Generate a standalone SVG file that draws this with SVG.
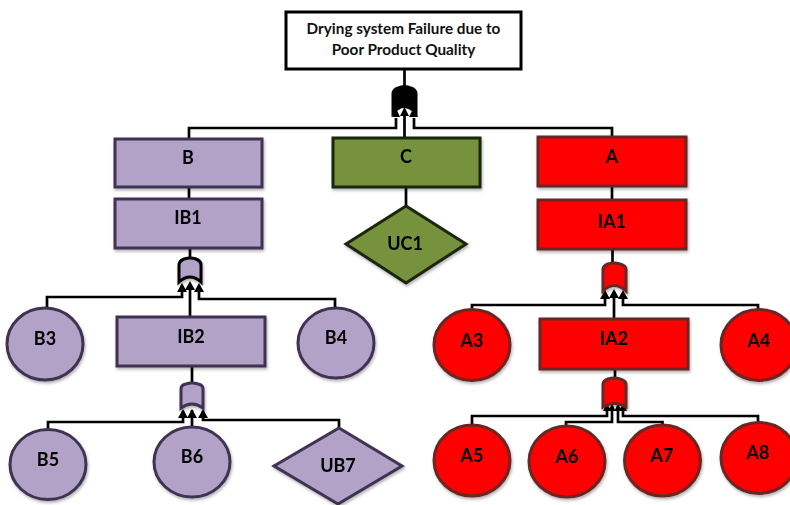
<svg xmlns="http://www.w3.org/2000/svg" width="790" height="505" viewBox="0 0 790 505">
<style>
text{font-family:Lato,"Liberation Sans",sans-serif;font-weight:700;font-size:18px;fill:#000;text-anchor:middle}
text.t{font-size:15.3px;fill:#111}
.p{fill:#b2a2c7;stroke:#403152;stroke-width:3}
.r{fill:#f00;stroke:#6b2624;stroke-width:3}
.g{fill:#76923c;stroke:#1c2510;stroke-width:3}
.c{fill:none;stroke:#000;stroke-width:2.700}
</style>
<defs>
<filter id="s" x="-10%" y="-10%" width="125%" height="125%"><feDropShadow dx="1" dy="2" stdDeviation="1.500" flood-color="#000" flood-opacity=".3"/></filter>
</defs>
<g id="connectors">
<path class="c" d="M404.500 69V86"/>
<path class="c" d="M189 139V128H396V118"/>
<path class="c" d="M404.500 137V116"/>
<path class="c" d="M612 137V128H414V118"/>
<path class="c" d="M189 187V199"/>
<path class="c" d="M406 187V206"/>
<path class="c" d="M612 186V200"/>
<path class="c" d="M190 248V258"/>
<path class="c" d="M47 310V297H182V287"/>
<path class="c" d="M190 317V285"/>
<path class="c" d="M335 308V299H199V287"/>
<path class="c" d="M192 366V383"/>
<path class="c" d="M48 430V422H183V411"/>
<path class="c" d="M192 428V410"/>
<path class="c" d="M339 428V420H203V411"/>
<path class="c" d="M612.500 249V263"/>
<path class="c" d="M472 309V305H605V294"/>
<path class="c" d="M614 319V292"/>
<path class="c" d="M758 309V305H623V294"/>
<path class="c" d="M615 369V377"/>
<path class="c" d="M472 425V416H607V408"/>
<path class="c" d="M566 426V422H612V408"/>
<path class="c" d="M662.500 425V422H618V408"/>
<path class="c" d="M758 423V416H623V408"/>
</g>
<g id="arrows" fill="#000">
<path d="M392 117l4-9 4 9zM400 116l4.500-9 4.500 9zM409 117l4.500-9 4.500 9zM177 292l5-9 5 9zM185 290l5-9 5 9zM194 292l5-9 5 9zM178 418l5-9 5 9zM187 418l5-9 5 9zM198 418l5-9 5 9zM600 299l5-9 5 9zM609 298l5-9 5 9zM618 299l5-9 5 9zM603 411l4-8 4 8zM608.500 411l3.500-8 3.500 8zM614.500 411l3.500-8 3.500 8zM619 411l4-8 4 8z"/>
</g>
<g id="top"><rect x="286" y="12" width="235" height="57" fill="#fff" stroke="#000" stroke-width="3"/><text class="t" x="403.500" y="34">Drying system Failure due to</text><text class="t" x="403.500" y="55">Poor Product Quality</text></g>
<g id="gate-top"><path d="M393 113V94Q393 90 398 88Q404.500 85 411 88Q416 90 416 94V113Q404 100 393 113Z" fill="#000" stroke="#000" stroke-width="3"/></g>
<g id="B" filter="url(#s)"><rect class="p" x="115" y="139" width="147" height="48"/><text x="188" y="164">B</text></g>
<g id="C" filter="url(#s)"><rect class="g" x="333" y="138" width="147" height="49"/><text x="406" y="163">C</text></g>
<g id="A" filter="url(#s)"><rect class="r" x="538" y="137" width="148" height="49"/><text x="612" y="163">A</text></g>
<g id="IB1" filter="url(#s)"><rect class="p" x="115" y="199" width="147" height="49"/><text x="188" y="224">IB1</text></g>
<g id="IA1" filter="url(#s)"><rect class="r" x="538" y="200" width="148" height="49"/><text x="612" y="228">IA1</text></g>
<g id="UC1" filter="url(#s)"><path class="g" d="M406 206L466 244L406 283L346 244Z"/><text x="405" y="250">UC1</text></g>
<g id="gate-IB1" filter="url(#s)"><path d="M179 282V265Q179 261 184 259Q190 257 196 259Q201 261 201 265V282Q190 272 179 282Z" fill="#b2a2c7" stroke="#000" stroke-width="3"/></g>
<g id="B3" filter="url(#s)"><ellipse class="p" cx="45" cy="344" rx="38" ry="36"/><text x="45" y="345">B3</text></g>
<g id="IB2" filter="url(#s)"><rect class="p" x="117" y="317" width="148" height="49"/><text x="191" y="343">IB2</text></g>
<g id="B4" filter="url(#s)"><ellipse class="p" cx="336" cy="343" rx="38" ry="35"/><text x="336" y="344">B4</text></g>
<g id="gate-IB2" filter="url(#s)"><path d="M181 408V389Q181 385 186 384Q192 382 198 384Q203 385 203 389V408Q192 400 181 408Z" fill="#b2a2c7" stroke="#403152" stroke-width="3"/></g>
<g id="B5" filter="url(#s)"><ellipse class="p" cx="48" cy="464.500" rx="38" ry="35"/><text x="48" y="466">B5</text></g>
<g id="B6" filter="url(#s)"><ellipse class="p" cx="192" cy="462" rx="38" ry="35"/><text x="192" y="463">B6</text></g>
<g id="UB7" filter="url(#s)"><path class="p" d="M339 428L402 466L338 504L274 466Z"/><text x="338" y="472">UB7</text></g>
<g id="gate-IA1" filter="url(#s)"><path class="r" d="M603 291V269Q603 266 608 264Q614 262 620 264Q626 266 626 269V291Q614 280 603 291Z"/></g>
<g id="A3" filter="url(#s)"><ellipse class="r" cx="472" cy="345" rx="38" ry="35.500"/><text x="472" y="347">A3</text></g>
<g id="IA2" filter="url(#s)"><rect class="r" x="540" y="319" width="148" height="50"/><text x="614" y="345">IA2</text></g>
<g id="A4" filter="url(#s)"><ellipse class="r" cx="759" cy="345" rx="38" ry="35.500"/><text x="759" y="347">A4</text></g>
<g id="gate-IA2" filter="url(#s)"><path class="r" d="M603 407V384Q603 381 608 379Q614 377 620 379Q626 381 626 384V407Q614 400 603 407Z"/></g>
<g id="A5" filter="url(#s)"><ellipse class="r" cx="472" cy="460.500" rx="38" ry="35.500"/><text x="472" y="462">A5</text></g>
<g id="A6" filter="url(#s)"><ellipse class="r" cx="567" cy="461.500" rx="38" ry="35.500"/><text x="567" y="463">A6</text></g>
<g id="A7" filter="url(#s)"><ellipse class="r" cx="662.500" cy="460.500" rx="38" ry="35.500"/><text x="662" y="462">A7</text></g>
<g id="A8" filter="url(#s)"><ellipse class="r" cx="759" cy="458" rx="38" ry="35.500"/><text x="758" y="459">A8</text></g>
</svg>
